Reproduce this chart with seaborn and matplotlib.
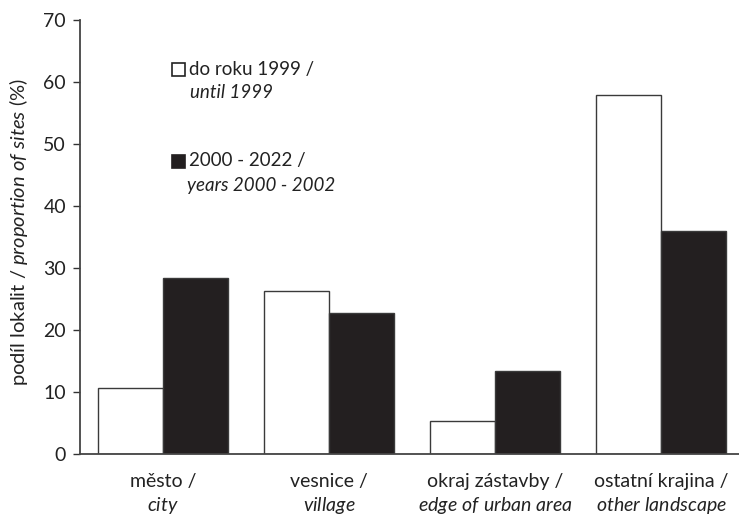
import matplotlib
matplotlib.use("Agg")
import matplotlib.pyplot as plt
import seaborn as sns
import pandas as pd
from matplotlib.patches import Rectangle

categories_cz = ["město /", "vesnice /", "okraj zástavby /", "ostatní krajina /"]
categories_en = ["city", "village", "edge of urban area", "other landscape"]
series_names = ["do roku 1999", "2000 - 2022"]
values_until_1999 = [10.6, 26.3, 5.3, 57.9]
values_2000_2022 = [28.4, 22.7, 13.4, 36.0]
yticks = [0, 10, 20, 30, 40, 50, 60, 70]

sns.set_theme(style="white")
plt.rcParams["font.family"] = ["Lato", "DejaVu Sans"]
plt.rcParams["mathtext.fontset"] = "custom"
plt.rcParams["mathtext.rm"] = "Lato"
plt.rcParams["mathtext.it"] = "Lato:italic"

cat_labels = [f"{cz}\n" + r"$\mathit{" + en.replace(" ", r"\ ") + "}$"
              for cz, en in zip(categories_cz, categories_en)]

df = pd.DataFrame({
    "cat": cat_labels * 2,
    "series": [series_names[0]] * 4 + [series_names[1]] * 4,
    "value": values_until_1999 + values_2000_2022,
})

W, H = 739, 519
fig = plt.figure(figsize=(W / 100, H / 100), dpi=100)
ax = fig.add_axes([80 / W, 65 / H, (W - 80) / W, (454 - 20) / H])

sns.barplot(data=df, x="cat", y="value", hue="series",
            palette={series_names[0]: "white", series_names[1]: "#231f20"},
            edgecolor="#3a3a3a", linewidth=1.0, width=0.78, gap=0,
            saturation=1, legend=False, ax=ax)

ax.set_ylim(0, 70)
ax.set_xlim(-0.5, -0.5 + (W - 80) / 166)
ax.set_yticks(yticks)
ax.set_yticklabels([str(t) for t in yticks], fontsize=14, color="#222222")
ax.tick_params(axis="y", direction="out", length=5, width=1.0, color="#333333", pad=5, left=True)
ax.tick_params(axis="x", length=0, pad=14, labelsize=14, labelcolor="#222222")
for lbl in ax.get_xticklabels():
    lbl.set_linespacing(1.3)
ax.set_xlabel("")
ax.set_ylabel(r"podíl lokalit / $\mathit{proportion\ of\ sites}$ (%)", fontsize=14.5,
              color="#222222")
ax.yaxis.set_label_coords((30 - 80) / (W - 80), (454 - 232) / 434)
for s in ["top", "right"]:
    ax.spines[s].set_visible(False)
for s in ["left", "bottom"]:
    ax.spines[s].set_color("#444444")
    ax.spines[s].set_linewidth(1.3)
ax.grid(False)
ax.patch.set_alpha(0)

# legend
def px(x, y):
    return x / W, 1 - y / H

fig.patches.append(Rectangle(px(172, 76), 13 / W, 13 / H, transform=fig.transFigure,
                             facecolor="white", edgecolor="#222222", linewidth=1.2))
fig.patches.append(Rectangle(px(172, 168), 13 / W, 13 / H, transform=fig.transFigure,
                             facecolor="#231f20", edgecolor="#231f20", linewidth=1.2))
fig.text(*px(189, 70), "do roku 1999 /", fontsize=13.5, va="center", ha="left", color="#222222")
fig.text(*px(190, 93), "until 1999", fontsize=13.5, style="italic", va="center", ha="left", color="#222222")
fig.text(*px(189, 161), "2000 - 2022 /", fontsize=13.5, va="center", ha="left", color="#222222")
fig.text(*px(187, 185), "years 2000 - 2002", fontsize=13.5, style="italic", va="center", ha="left", color="#222222")

fig.savefig("out.png", dpi=100)
